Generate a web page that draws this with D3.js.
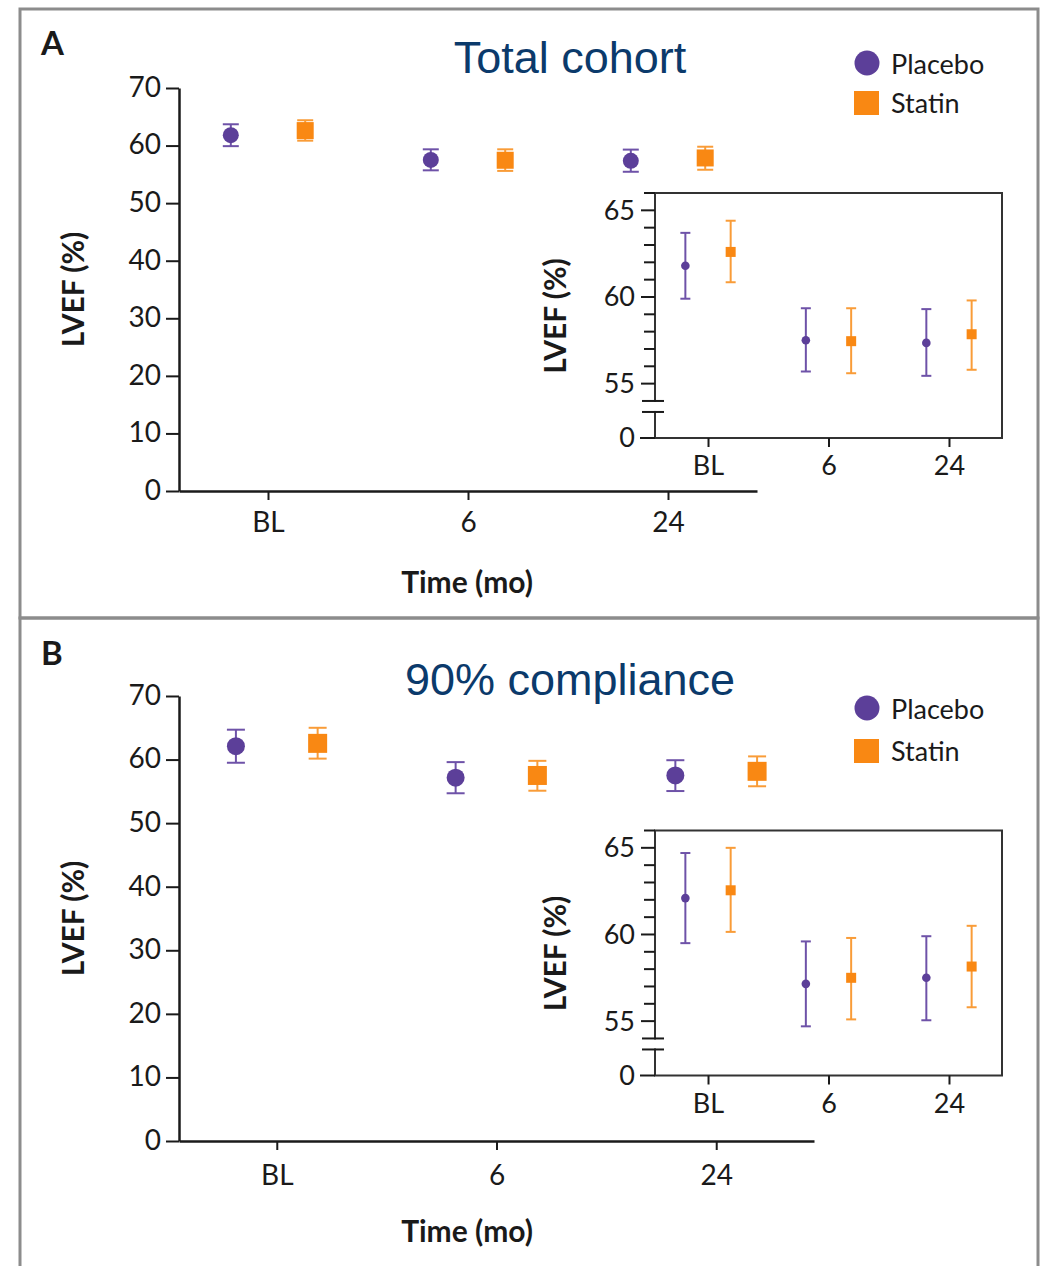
<!DOCTYPE html>
<html>
<head>
<meta charset="utf-8">
<script src="https://cdn.jsdelivr.net/npm/d3@7/dist/d3.min.js"></script>
<style>
  body { margin: 0; background: #fff; }
  text { font-family: Lato, "Open Sans", sans-serif; fill: #1a1a1a; }
</style>
</head>
<body>
<script>
// time points on the x axis
var timepoints = ["BL", "6", "24"];

// panel A - total cohort (mean, lower, upper)
var totalPlacebo   = [61.8, 57.5, 57.35];
var totalPlaceboLo = [59.9, 55.7, 55.45];
var totalPlaceboHi = [63.7, 59.35, 59.3];
var totalStatin    = [62.6, 57.45, 57.85];
var totalStatinLo  = [60.85, 55.6, 55.8];
var totalStatinHi  = [64.4, 59.35, 59.8];

// panel B - 90% compliance
var compPlacebo   = [62.1, 57.15, 57.5];
var compPlaceboLo = [59.5, 54.7, 55.05];
var compPlaceboHi = [64.7, 59.6, 59.9];
var compStatin    = [62.55, 57.5, 58.15];
var compStatinLo  = [60.15, 55.1, 55.8];
var compStatinHi  = [65.0, 59.8, 60.5];

var mainTicks = [0, 10, 20, 30, 40, 50, 60, 70];
var insetMajor = [55, 60, 65];
var insetMinor = [56, 57, 58, 59, 61, 62, 63, 64, 66];

var PURPLE = "#5c3f99", PURPLE_BAR = "#6e52a8";
var ORANGE = "#f98813", ORANGE_BAR = "#f99c38";
var INK = "#1a1a1a";

var width = 1048, height = 1266;

var svg = d3.select("body").append("svg")
    .attr("width", width)
    .attr("height", height);

function series(mean, lo, hi) {
    return timepoints.map(function (t, i) { return {t: t, v: mean[i], lo: lo[i], hi: hi[i]}; });
}

//__draw one group of error bars + markers__//
function drawPoints(g, data, x, y, dx, kind, size, cap) {
    var col = kind === "circle" ? PURPLE : ORANGE;
    var barCol = kind === "circle" ? PURPLE_BAR : ORANGE_BAR;
    var pts = g.append("g").selectAll("g")
        .data(data)
        .enter().append("g")
        .attr("transform", function (d) { return "translate(" + (x(d.t) + dx) + ",0)"; });

    pts.append("line")
        .attr("y1", function (d) { return y(d.lo); })
        .attr("y2", function (d) { return y(d.hi); })
        .attr("stroke", barCol).attr("stroke-width", 2);
    pts.selectAll(".cap")
        .data(function (d) { return [d.lo, d.hi]; })
        .enter().append("line")
        .attr("x1", -cap / 2).attr("x2", cap / 2)
        .attr("y1", function (v) { return y(v); })
        .attr("y2", function (v) { return y(v); })
        .attr("stroke", barCol).attr("stroke-width", 2);

    if (kind === "circle") {
        pts.append("circle")
            .attr("cy", function (d) { return y(d.v); })
            .attr("r", size)
            .attr("fill", col);
    } else {
        pts.append("rect")
            .attr("x", -size / 2)
            .attr("y", function (d) { return y(d.v) - size / 2; })
            .attr("width", size).attr("height", size)
            .attr("fill", col);
    }
}

function styleAxis(sel, w) {
    sel.select(".domain").attr("stroke", INK).attr("stroke-width", w);
    sel.selectAll(".tick line").attr("stroke", INK).attr("stroke-width", 2);
    sel.selectAll(".tick text").attr("fill", INK).style("font-family", "Lato, sans-serif");
}

function drawPanel(p) {
    var g = svg.append("g");

    // frame
    g.append("rect")
        .attr("x", 20).attr("y", p.frameTop)
        .attr("width", 1018).attr("height", p.frameBottom - p.frameTop)
        .attr("fill", "none").attr("stroke", "#8c8c8c").attr("stroke-width", 3);

    g.append("text").attr("x", 41).attr("y", p.letterY)
        .style("font-size", "33px").style("font-weight", 700).text(p.letter);

    g.append("text").attr("x", 570).attr("y", p.titleY)
        .attr("text-anchor", "middle")
        .style("font-family", "'Liberation Sans', Arial, sans-serif")
        .style("font-size", "45px").style("fill", "#0b3a6b")
        .text(p.title);

    // legend
    g.append("circle").attr("cx", 867).attr("cy", p.legY1).attr("r", 12.5).attr("fill", PURPLE);
    g.append("text").attr("x", 891).attr("y", p.legY1 + 11).style("font-size", "27px").text("Placebo");
    g.append("rect").attr("x", 854).attr("y", p.legY2 - 12).attr("width", 25).attr("height", 24).attr("fill", ORANGE);
    g.append("text").attr("x", 891).attr("y", p.legY2 + 10).style("font-size", "27px").text("Statin");

    //__main chart__//
    var x = d3.scalePoint().domain(timepoints).range([179, p.xEnd]).padding(0.445);
    var y = d3.scaleLinear().domain([0, 70]).range([p.y0, p.y70]);

    var ya = g.append("g").attr("transform", "translate(179,0)")
        .call(d3.axisLeft(y).tickValues(mainTicks).tickSize(13).tickSizeOuter(0).tickPadding(5));
    styleAxis(ya, 2.5);
    ya.selectAll(".tick text").style("font-size", "28px").attr("dy", "0.3em");

    var xa = g.append("g").attr("transform", "translate(0," + p.y0 + ")")
        .call(d3.axisBottom(x).tickSize(9).tickSizeOuter(0));
    styleAxis(xa, 2.5);
    xa.selectAll(".tick text").style("font-size", "28px").attr("y", p.xLabelDy).attr("dy", 0);

    g.append("text").attr("x", 467).attr("y", p.xTitleY).attr("text-anchor", "middle")
        .style("font-size", "30px").style("font-weight", 700).text("Time (mo)");
    g.append("text")
        .attr("transform", "translate(84," + (p.y0 + p.y70) / 2 + ") rotate(-90)")
        .attr("text-anchor", "middle")
        .style("font-size", "30px").style("font-weight", 700).text("LVEF (%)");

    var off = x.step() * 0.186;
    drawPoints(g, p.placebo, x, y, -off, "circle", p.r, p.cap);
    drawPoints(g, p.statin, x, y, off, "square", p.sq, p.cap);

    //__inset__//
    var top = p.insetTop, bottom = top + 245, L = 655, R = 1002;
    var xi = d3.scalePoint().domain(timepoints).range([L, R]).padding(0.44);
    var yi = d3.scaleLinear().domain([66, 55]).range([top, top + 11 * 17.33]);
    var brk1 = yi(54), brk2 = yi(54) + 11;

    var ig = g.append("g");
    ig.append("rect").attr("x", L).attr("y", top).attr("width", R - L).attr("height", bottom - top)
        .attr("fill", "#fff").attr("stroke", "#333").attr("stroke-width", 2);
    // left axis with break
    ig.append("rect").attr("x", L - 2).attr("y", brk1 + 1).attr("width", 4).attr("height", brk2 - brk1 - 2).attr("fill", "#fff");
    [brk1, brk2].forEach(function (b) {
        ig.append("line").attr("x1", L - 13).attr("x2", L + 9).attr("y1", b).attr("y2", b)
            .attr("stroke", INK).attr("stroke-width", 2);
    });
    ig.selectAll(".minor").data(insetMinor)
        .enter().append("line")
        .attr("x1", L - 11).attr("x2", L)
        .attr("y1", function (v) { return yi(v); }).attr("y2", function (v) { return yi(v); })
        .attr("stroke", INK).attr("stroke-width", 2);
    var maj = ig.selectAll(".major").data(insetMajor).enter().append("g")
        .attr("transform", function (v) { return "translate(0," + yi(v) + ")"; });
    maj.append("line").attr("x1", L - 14).attr("x2", L).attr("stroke", INK).attr("stroke-width", 2);
    maj.append("text").attr("x", L - 20).attr("dy", "0.35em").attr("text-anchor", "end")
        .style("font-size", "27px").text(function (v) { return v; });
    ig.append("line").attr("x1", L - 15).attr("x2", L).attr("y1", bottom).attr("y2", bottom)
        .attr("stroke", INK).attr("stroke-width", 2);
    ig.append("text").attr("x", L - 20).attr("y", bottom).attr("dy", "0.35em").attr("text-anchor", "end")
        .style("font-size", "27px").text("0");

    var xia = ig.append("g").attr("transform", "translate(0," + bottom + ")")
        .call(d3.axisBottom(xi).tickSize(9).tickSizeOuter(0));
    xia.select(".domain").remove();
    styleAxis(xia, 2);
    xia.selectAll(".tick text").style("font-size", "27px").attr("y", 37).attr("dy", 0);

    ig.append("text")
        .attr("transform", "translate(566," + (top + 123) + ") rotate(-90)")
        .attr("text-anchor", "middle")
        .style("font-size", "30px").style("font-weight", 700).text("LVEF (%)");

    var offi = xi.step() * 0.188;
    drawPoints(ig, p.placebo, xi, yi, -offi, "circle", 4.3, 10);
    drawPoints(ig, p.statin, xi, yi, offi, "square", 10, 10);
}

drawPanel({
    letter: "A", title: "Total cohort",
    frameTop: 9, frameBottom: 618,
    letterY: 55, titleY: 73, legY1: 63, legY2: 103,
    y0: 491, y70: 88, xEnd: 757, xLabelDy: 41, xTitleY: 593,
    r: 8, sq: 17, cap: 16, insetTop: 193,
    placebo: series(totalPlacebo, totalPlaceboLo, totalPlaceboHi),
    statin: series(totalStatin, totalStatinLo, totalStatinHi)
});

drawPanel({
    letter: "B", title: "90% compliance",
    frameTop: 618, frameBottom: 1290,
    letterY: 665, titleY: 695, legY1: 708, legY2: 751,
    y0: 1141, y70: 696, xEnd: 814, xLabelDy: 44, xTitleY: 1242,
    r: 9, sq: 19, cap: 18, insetTop: 830.5,
    placebo: series(compPlacebo, compPlaceboLo, compPlaceboHi),
    statin: series(compStatin, compStatinLo, compStatinHi)
});
</script>
</body>
</html>
